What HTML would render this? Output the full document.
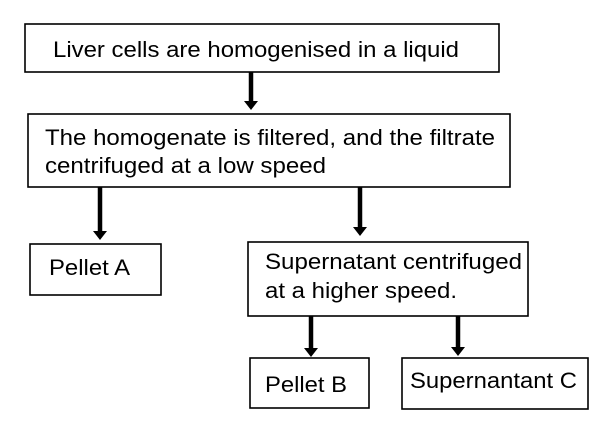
<!DOCTYPE html>
<html><head><style>body{margin:0;background:#fff}svg{display:block}</style></head>
<body>
<svg width="600" height="422" viewBox="0 0 600 422" xmlns="http://www.w3.org/2000/svg" font-family="Liberation Sans, Arial, sans-serif" font-size="22" fill="#000">
<g fill="none" stroke="#000" stroke-width="1.6">
<rect x="25" y="24" width="474" height="48"/>
<rect x="28" y="114" width="482" height="73"/>
<rect x="30" y="244" width="131" height="51"/>
<rect x="248" y="242" width="280" height="74"/>
<rect x="250" y="358" width="119" height="50"/>
<rect x="402" y="358" width="186" height="51"/>
</g>
<g stroke="#000" stroke-width="4.5">
<line x1="251" y1="72" x2="251" y2="103"/>
<line x1="100" y1="187" x2="100" y2="233"/>
<line x1="360" y1="187" x2="360" y2="229"/>
<line x1="311" y1="316" x2="311" y2="350"/>
<line x1="458" y1="316" x2="458" y2="349"/>
</g>
<g fill="#000">
<polygon points="244,101 258,101 251,110"/>
<polygon points="93,231 107,231 100,240"/>
<polygon points="353,227 367,227 360,236"/>
<polygon points="304,348 318,348 311,357"/>
<polygon points="451,347 465,347 458,356"/>
</g>
<text x="53" y="57" textLength="406" lengthAdjust="spacingAndGlyphs">Liver cells are homogenised in a liquid</text>
<text x="45" y="145" textLength="450" lengthAdjust="spacingAndGlyphs">The homogenate is filtered, and the filtrate</text>
<text x="45" y="173" textLength="281" lengthAdjust="spacingAndGlyphs">centrifuged at a low speed</text>
<text x="49" y="275" textLength="81" lengthAdjust="spacingAndGlyphs">Pellet A</text>
<text x="265" y="269" textLength="257" lengthAdjust="spacingAndGlyphs">Supernatant centrifuged</text>
<text x="265" y="298" textLength="192" lengthAdjust="spacingAndGlyphs">at a higher speed.</text>
<text x="265" y="392" textLength="82" lengthAdjust="spacingAndGlyphs">Pellet B</text>
<text x="410" y="388" textLength="167" lengthAdjust="spacingAndGlyphs">Supernantant C</text>
</svg>
</body></html>
